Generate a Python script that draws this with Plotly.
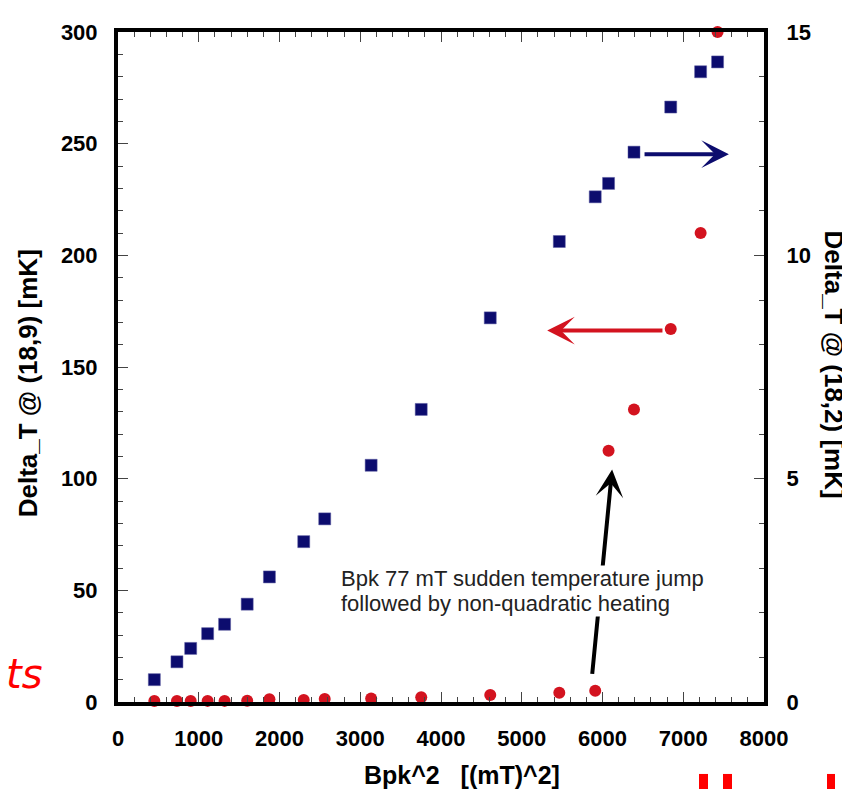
import plotly.graph_objects as go

# Bpk^2 [(mT)^2], shared by both series
bpk_sq = [450, 730, 900, 1110, 1320, 1600, 1875, 2300, 2560, 3135,
          3755, 4610, 5465, 5910, 6075, 6390, 6845, 7215, 7425]

# Delta_T @ (18,9) [mK]  (red dots, left axis)
dt_18_9 = [0.4, 0.4, 0.4, 0.5, 0.5, 0.6, 1.2, 0.9, 1.3, 1.6,
           2.1, 3.1, 4.1, 5.0, 112.5, 131.0, 167.0, 210.0, 300.0]

# Delta_T @ (18,2) [mK]  (blue squares, right axis)
dt_18_2 = [0.50, 0.90, 1.20, 1.53, 1.74, 2.19, 2.80, 3.59, 4.10, 5.30,
           6.55, 8.60, 10.31, 11.31, 11.61, 12.31, 13.32, 14.11, 14.33]

x_ticks = list(range(0, 8001, 1000))
y_ticks = list(range(0, 301, 50))
y2_ticks = [0, 5, 10, 15]

NAVY = "#0c0c6e"
RED = "#d3131f"
FONT = "Liberation Sans"

fig = go.Figure()

fig.add_trace(
    go.Scatter(
        x=bpk_sq,
        y=dt_18_2,
        yaxis="y2",
        mode="markers",
        marker_symbol="square",
        marker_size=12,
        marker_color=NAVY,
        marker_line_width=0.5,
        marker_line_color="#5a5aa0",
        cliponaxis=False,
        name="(18,2)",
    )
)

fig.add_trace(
    go.Scatter(
        x=bpk_sq,
        y=dt_18_9,
        mode="markers",
        marker_symbol="circle",
        marker_size=12,
        marker_color=RED,
        marker_line_width=0,
        cliponaxis=False,
        name="(18,9)",
    )
)

tick_font = dict(family=FONT, size=22, color="black", weight="bold")
axis_common = dict(
    showline=True,
    linewidth=4,
    linecolor="black",
    showgrid=False,
    zeroline=False,
    ticks="inside",
    ticklen=10,
    tickwidth=1,
    tickcolor="#444",
    tickfont=tick_font,
)

# page body has an 8px margin, so the figure is 8px smaller and margins shifted
fig.update_layout(
    width=842,
    height=781,
    margin=dict(l=110, r=86, t=14, b=87),
    paper_bgcolor="white",
    plot_bgcolor="white",
    showlegend=False,
    xaxis=dict(
        range=[0, 8000],
        tickvals=x_ticks,
        mirror="ticks",
        ticklabelstandoff=14,
        minor=dict(dtick=200, ticklen=5, ticks="inside", tickcolor="#444", showgrid=False),
        **axis_common,
    ),
    yaxis=dict(
        range=[0, 300],
        tickvals=y_ticks,
        ticklabelstandoff=12,
        minor=dict(dtick=10, ticklen=5, ticks="inside", tickcolor="#444", showgrid=False),
        **axis_common,
    ),
    yaxis2=dict(
        range=[0, 15],
        tickvals=y2_ticks,
        overlaying="y",
        side="right",
        ticklabelstandoff=14,
        minor=dict(dtick=1, ticklen=5, ticks="inside", tickcolor="#444", showgrid=False),
        **axis_common,
    ),
)

title_font = dict(family=FONT, size=26, color="black", weight="bold")

# axis titles
fig.add_annotation(
    text="Delta_T @ (18,9) [mK]", xref="paper", yref="paper",
    x=-0.139, y=0.476, xanchor="center", yanchor="middle",
    textangle=-90, showarrow=False, font=title_font,
)
fig.add_annotation(
    text="Delta_T @ (18,2) [mK]", xref="paper", yref="paper",
    x=1.109, y=0.503, xanchor="center", yanchor="middle",
    textangle=90, showarrow=False, font=title_font,
)
fig.add_annotation(
    text="Bpk^2   [(mT)^2]", xref="paper", yref="paper",
    x=0.5325, y=-0.109, xanchor="center", yanchor="middle",
    showarrow=False, font=dict(family=FONT, size=25, color="black", weight="bold"),
)

# axis pointer arrows
fig.add_annotation(
    x=7565, y=245.3, ax=6502, ay=245.3, xref="x", yref="y", axref="x", ayref="y",
    text="", showarrow=True, arrowhead=3, arrowsize=1.15, arrowwidth=4, arrowcolor=NAVY,
)
fig.add_annotation(
    x=5315, y=166.3, ax=6761, ay=166.3, xref="x", yref="y", axref="x", ayref="y",
    text="", showarrow=True, arrowhead=3, arrowsize=1.15, arrowwidth=4, arrowcolor=RED,
)
fig.add_annotation(
    x=6119, y=104.1, ax=5871, ay=11.9, xref="x", yref="y", axref="x", ayref="y",
    text="", showarrow=True, arrowhead=3, arrowsize=1.15, arrowwidth=4, arrowcolor="black",
)

# two-line note, one annotation per line to keep the tight line spacing
for line, yv in [("Bpk 77 mT sudden temperature jump", 55.1),
                 ("followed by non-quadratic heating", 44.1)]:
    fig.add_annotation(
        text=line, xref="x", yref="y", x=2744, y=yv, xanchor="left", yanchor="middle",
        showarrow=False, bgcolor="white", borderpad=0,
        font=dict(family=FONT, size=22, color="#222"),
    )

# red text fragment at the left edge
fig.add_annotation(
    text="<i>ts</i>", xref="paper", yref="paper", x=-0.176, y=0.042,
    xanchor="left", yanchor="middle", showarrow=False,
    font=dict(family="DejaVu Sans", size=40, color="#ff0000"),
)

# red marks along the bottom edge
for x0, x1 in [(0.8994, 0.9133), (0.9365, 0.9505), (1.0975, 1.1099)]:
    fig.add_shape(
        type="rect", xref="paper", yref="paper", x0=x0, x1=x1, y0=-0.13, y1=-0.1074,
        fillcolor="#ff0000", line_width=0,
    )

fig.write_html("out.html")
